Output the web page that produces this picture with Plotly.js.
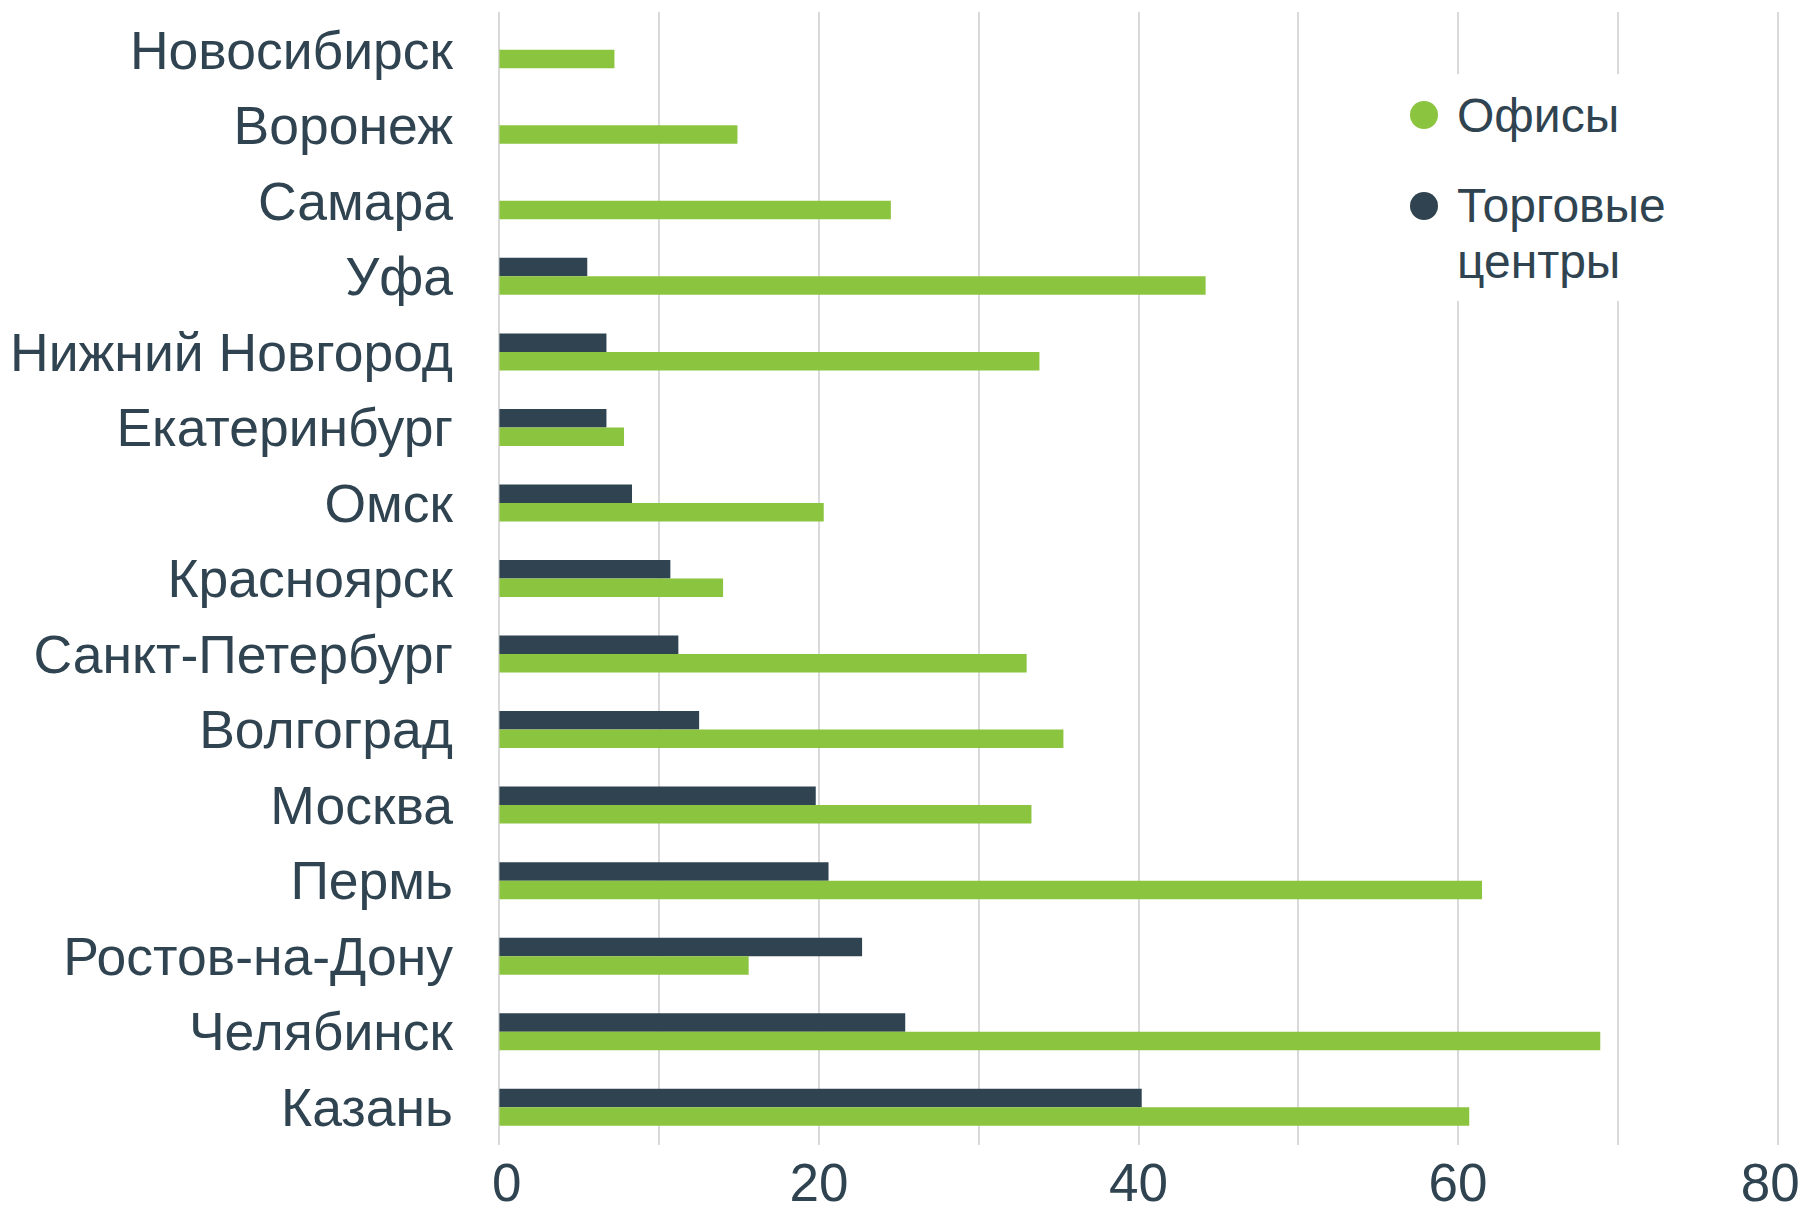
<!DOCTYPE html>
<html>
<head>
<meta charset="utf-8">
<script src="https://cdn.plot.ly/plotly-3.0.1.min.js"></script>
<style>
html,body{margin:0;padding:0;background:#fff;}
#chart{width:1803px;height:1205px;}
</style>
</head>
<body>
<div id="chart"></div>
<script>
const cities = ["Новосибирск","Воронеж","Самара","Уфа","Нижний Новгород","Екатеринбург","Омск","Красноярск","Санкт-Петербург","Волгоград","Москва","Пермь","Ростов-на-Дону","Челябинск","Казань"];
const offices = [7.2, 14.9, 24.5, 44.2, 33.8, 7.8, 20.3, 14.0, 33.0, 35.3, 33.3, 61.5, 15.6, 68.9, 60.7];
const malls = [null, null, null, 5.5, 6.7, 6.7, 8.3, 10.7, 11.2, 12.5, 19.8, 20.6, 22.7, 25.4, 40.2];
const seriesNames = ["Офисы", "Торговые центры"];
const xTickVals = [0, 10, 20, 30, 40, 50, 60, 70, 80];
const xTickText = ["\u00A00", "", "20", "", "40", "", "60", "", "80\u00A0"];

const GREEN = "#8BC43F";
const DARK = "#2F4450";
const TEXT = "#2F4450";
const FONT = "Liberation Sans, Arial, sans-serif";

const traces = [
  {type: "bar", orientation: "h", name: seriesNames[1], y: cities, x: malls,
   marker: {color: DARK}, showlegend: false, hoverinfo: "x+y+name"},
  {type: "bar", orientation: "h", name: seriesNames[0], y: cities, x: offices,
   marker: {color: GREEN}, showlegend: false, hoverinfo: "x+y+name"}
];

const L = 497, R = 23, T = 12, B = 60, W = 1803, H = 1205;
const pw = W - L - R, ph = H - T - B;
const px = v => (v - L) / pw;
const py = v => (H - B - v) / ph;

const layout = {
  width: W, height: H,
  margin: {l: L, r: R, t: T, b: B},
  paper_bgcolor: "#fff", plot_bgcolor: "#fff",
  barmode: "group", bargap: 0.51, bargroupgap: 0,
  font: {family: FONT, color: TEXT},
  showlegend: false,
  xaxis: {
    range: [-0.15, 80.15], tickvals: xTickVals, ticktext: xTickText,
    showgrid: true, gridcolor: "#D9D9D9", gridwidth: 2,
    zeroline: false, showline: false, ticks: "",
    tickfont: {size: 53, color: TEXT, family: FONT},
    ticklabelstandoff: 2, ticklabeloverflow: "allow", fixedrange: true
  },
  yaxis: {
    type: "category", autorange: "reversed",
    showgrid: false, zeroline: false, showline: false, ticks: "",
    tickfont: {size: 53.5, color: TEXT, family: FONT},
    ticklabelstandoff: 43, fixedrange: true
  },
  shapes: [
    {type: "rect", xref: "paper", yref: "paper", layer: "above",
     x0: px(1330), x1: px(1700), y0: py(301), y1: py(74),
     fillcolor: "#fff", line: {width: 0}},
    {type: "circle", xref: "paper", yref: "paper", xsizemode: "pixel", ysizemode: "pixel",
     xanchor: px(1424), yanchor: py(115), x0: -14, x1: 14, y0: -14, y1: 14,
     fillcolor: GREEN, line: {width: 0}, layer: "above"},
    {type: "circle", xref: "paper", yref: "paper", xsizemode: "pixel", ysizemode: "pixel",
     xanchor: px(1424), yanchor: py(206), x0: -14, x1: 14, y0: -14, y1: 14,
     fillcolor: DARK, line: {width: 0}, layer: "above"}
  ],
  annotations: [
    {xref: "paper", yref: "paper", x: px(1455), y: py(115), xanchor: "left", yanchor: "middle",
     text: seriesNames[0], showarrow: false, font: {size: 48, color: TEXT, family: FONT}},
    {xref: "paper", yref: "paper", x: px(1455), y: py(206), xanchor: "left", yanchor: "middle",
     text: "Торговые", showarrow: false, font: {size: 48, color: TEXT, family: FONT}},
    {xref: "paper", yref: "paper", x: px(1455), y: py(261), xanchor: "left", yanchor: "middle",
     text: "центры", showarrow: false, font: {size: 48, color: TEXT, family: FONT}}
  ]
};

Plotly.newPlot("chart", traces, layout, {displayModeBar: false, staticPlot: true});
</script>
</body>
</html>
